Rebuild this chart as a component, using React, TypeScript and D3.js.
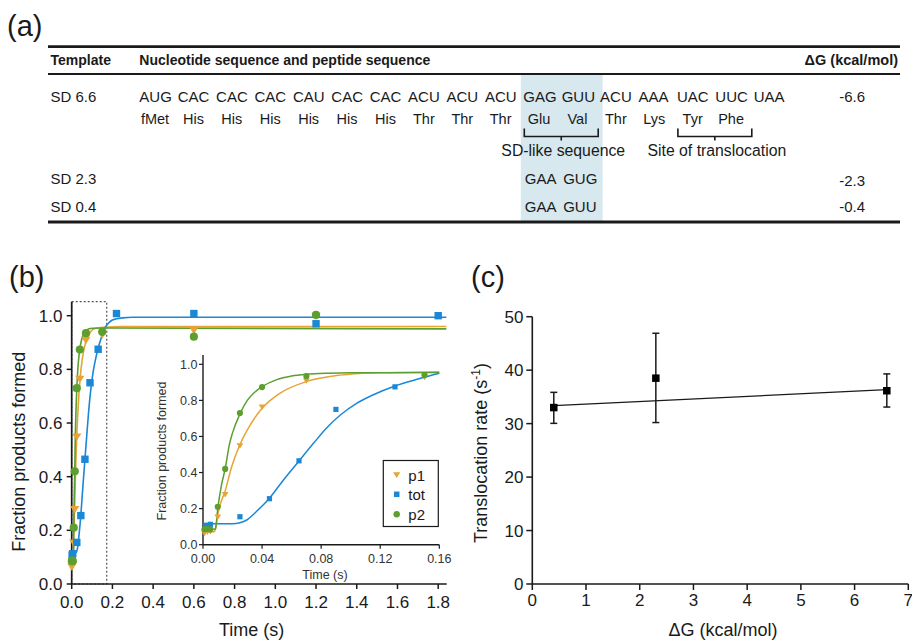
import React from "react";
import * as d3 from "d3";

// ---------- Panel (a) data ----------
const tableHeaders = ["Template", "Nucleotide sequence and peptide sequence", "ΔG (kcal/mol)"];
const codons = ["AUG", "CAC", "CAC", "CAC", "CAU", "CAC", "CAC", "ACU", "ACU", "ACU", "GAG", "GUU", "ACU", "AAA", "UAC", "UUC", "UAA"];
const aminoAcids = ["fMet", "His", "His", "His", "His", "His", "His", "Thr", "Thr", "Thr", "Glu", "Val", "Thr", "Lys", "Tyr", "Phe", ""];
const templates = ["SD 6.6", "SD 2.3", "SD 0.4"];
const deltaGValues = ["-6.6", "-2.3", "-0.4"];
const sdVariants: (string[] | null)[] = [null, ["GAA", "GUG"], ["GAA", "GUU"]];
const bracketLabels = ["SD-like sequence", "Site of translocation"];
const bracketCodons = [[10, 11], [14, 15]];
const sdCodonIdx = [10, 11];

// ---------- Panel (b) data ----------
const p1Time = [0.001, 0.003, 0.005, 0.01, 0.015, 0.025, 0.04, 0.07, 0.15, 0.6, 1.2];
const p1Val = [0.065, 0.072, 0.075, 0.155, 0.28, 0.55, 0.765, 0.91, 0.93, 0.947, 1.0];
const totTime = [0.002, 0.005, 0.025, 0.045, 0.065, 0.09, 0.13, 0.22, 0.6, 1.2, 1.8];
const totVal = [0.108, 0.113, 0.155, 0.255, 0.465, 0.75, 0.875, 1.008, 1.008, 0.97, 1.0];
const p2Time = [0.001, 0.003, 0.005, 0.01, 0.015, 0.025, 0.04, 0.07, 0.15, 0.6, 1.2];
const p2Val = [0.085, 0.088, 0.085, 0.21, 0.42, 0.73, 0.874, 0.935, 0.94, 0.922, 1.003];

// fitted curves
const fitP1Time = [0, 0.0075, 0.0085, 0.0097, 0.0127, 0.0147, 0.0194, 0.0246, 0.032, 0.04, 0.052, 0.07, 0.093, 0.115, 0.16, 0.25, 1.84];
const fitP1Val = [0.072, 0.072, 0.09, 0.155, 0.248, 0.29, 0.432, 0.547, 0.664, 0.756, 0.839, 0.904, 0.94, 0.952, 0.957, 0.96, 0.96];
const fitTotTime = [0, 0.02, 0.025, 0.0296, 0.036, 0.0447, 0.0545, 0.0646, 0.0748, 0.084, 0.093, 0.104, 0.115, 0.13, 0.145, 0.16, 0.18, 0.2, 0.25, 0.3, 1.84];
const fitTotVal = [0.116, 0.116, 0.122, 0.137, 0.183, 0.255, 0.359, 0.46, 0.562, 0.65, 0.719, 0.784, 0.83, 0.88, 0.917, 0.95, 0.972, 0.984, 0.992, 0.994, 0.994];
const fitP2Time = [0, 0.0075, 0.0085, 0.01, 0.0125, 0.015, 0.018, 0.02, 0.025, 0.03, 0.035, 0.04, 0.05, 0.06, 0.07, 0.085, 0.1, 0.16, 1.84];
const fitP2Val = [0.085, 0.085, 0.09, 0.2, 0.33, 0.42, 0.56, 0.62, 0.725, 0.8, 0.845, 0.876, 0.915, 0.935, 0.945, 0.951, 0.953, 0.954, 0.951];

const mainXTicks = [0, 0.2, 0.4, 0.6, 0.8, 1.0, 1.2, 1.4, 1.6, 1.8];
const mainYTicks = [0, 0.2, 0.4, 0.6, 0.8, 1.0];
const insetXTicks = [0, 0.04, 0.08, 0.12, 0.16];
const insetYTicks = [0, 0.2, 0.4, 0.6, 0.8, 1.0];
const seriesNames = ["p1", "tot", "p2"];
const zoomWindow = 0.172;

// ---------- Panel (c) data ----------
const dGx = [0.4, 2.3, 6.6];
const rate = [33.0, 38.5, 36.15];
const rateLow = [30.05, 30.2, 33.1];
const rateHigh = [35.85, 46.9, 39.3];
const fitLineX = [0.4, 6.6];
const fitLineY = [33.35, 36.35];
const cXTicks = [0, 1, 2, 3, 4, 5, 6, 7];
const cYTicks = [0, 10, 20, 30, 40, 50];

const FONT = "'Liberation Sans', Arial, Helvetica, sans-serif";
const ORANGE = "#e6a437";
const BLUE = "#1b87d7";
const GREEN = "#5c9f2e";
const INK = "#1a1a1a";

const zipPts = (xs: number[], ys: number[]) => xs.map((x, i) => [x, ys[i]] as [number, number]);

function Tri({ x, y, s, fill }: { x: number; y: number; s: number; fill: string }) {
  return <path d={`M${x - s},${y - s * 0.65}L${x + s},${y - s * 0.65}L${x},${y + s * 0.95}Z`} fill={fill} />;
}
function Sq({ x, y, s, fill }: { x: number; y: number; s: number; fill: string }) {
  return <rect x={x - s / 2} y={y - s / 2} width={s} height={s} fill={fill} />;
}
function Circ({ x, y, r, fill }: { x: number; y: number; r: number; fill: string }) {
  return <circle cx={x} cy={y} r={r} fill={fill} />;
}

export default function App() {
  // ----- Panel (a) layout -----
  const codonX = d3.scaleLinear().domain([0, 16]).range([139.3, 139.3 + 16 * 38.4]);
  const codonW = 31.5;
  const rowBase = [101.5, 183.5, 211.7];
  const hlX0 = codonX(sdCodonIdx[0]) - 2.5;
  const hlX1 = codonX(sdCodonIdx[1]) + 38.4 + 2.5;

  // ----- Panel (b) scales -----
  const bx = d3.scaleLinear().domain([0, 1.8]).range([71.7, 438.2]);
  const by = d3.scaleLinear().domain([0, 1]).range([584, 315.7]);
  const bLine = d3.line<[number, number]>().x(d => bx(d[0])).y(d => by(d[1])).curve(d3.curveMonotoneX);

  const ix = d3.scaleLinear().domain([0, 0.16]).range([203, 439.3]);
  const iy = d3.scaleLinear().domain([0, 1]).range([544.7, 364.3]);
  const iLine = d3.line<[number, number]>().x(d => ix(d[0])).y(d => iy(d[1])).curve(d3.curveMonotoneX);
  const clip = (pts: [number, number][]) => pts.filter(p => p[0] <= 0.16);

  const fitP1 = zipPts(fitP1Time, fitP1Val);
  const fitTot = zipPts(fitTotTime, fitTotVal);
  const fitP2 = zipPts(fitP2Time, fitP2Val);
  const p1 = zipPts(p1Time, p1Val);
  const tot = zipPts(totTime, totVal);
  const p2 = zipPts(p2Time, p2Val);
  const f1 = d3.format(".1f");
  const f2 = d3.format(".2f");

  // ----- Panel (c) scales -----
  const cx = d3.scaleLinear().domain([0, 7]).range([532.3, 908.3]);
  const cy = d3.scaleLinear().domain([0, 50]).range([584, 316.7]);
  const cLine = d3.line<number>().x(d => cx(fitLineX[d])).y(d => cy(fitLineY[d]));

  return (
    <svg width={912} height={640} style={{ position: "absolute", left: 0, top: 0, background: "#fff" }} fontFamily={FONT}>
      <rect x={0} y={0} width={912} height={640} fill="#fff" />
      {/* ================= Panel (a) ================= */}
      <text x={7} y={36} fontSize={29} fill={INK}>(a)</text>
      <rect x={hlX0} y={75} width={hlX1 - hlX0} height={146} fill="#d7e8ef" />
      <line x1={48} x2={900} y1={46.6} y2={46.6} stroke={INK} strokeWidth={2.6} />
      <line x1={48} x2={900} y1={74} y2={74} stroke={INK} strokeWidth={1.8} />
      <line x1={48} x2={900} y1={222} y2={222} stroke={INK} strokeWidth={2.8} />
      <text x={50.5} y={64.5} fontSize={14} fontWeight="bold" fill={INK}>{tableHeaders[0]}</text>
      <text x={139.3} y={64.5} fontSize={14} fontWeight="bold" fill={INK}>{tableHeaders[1]}</text>
      <text x={898} y={64.5} fontSize={14.5} fontWeight="bold" fill={INK} textAnchor="end">{tableHeaders[2]}</text>
      {templates.map((t, i) => (
        <text key={t} x={50.5} y={rowBase[i]} fontSize={15} fill={INK}>{t}</text>
      ))}
      {deltaGValues.map((v, i) => (
        <text key={v} x={865} y={[101.7, 186, 211.7][i]} fontSize={15} fill={INK} textAnchor="end">{v}</text>
      ))}
      {codons.map((c, i) => (
        <text key={"c" + i} x={codonX(i)} y={rowBase[0]} fontSize={15} fill={INK}>{c}</text>
      ))}
      {aminoAcids.map((a, i) => (
        <text key={"a" + i} x={codonX(i) + codonW / 2} y={124} fontSize={14.5} fill={INK} textAnchor="middle">{a}</text>
      ))}
      {bracketCodons.map(([s, e], i) => {
        const x0 = codonX(s) + 1;
        const x1 = codonX(e) + codonW + 5;
        const mid = (x0 + x1) / 2;
        return (
          <g key={"b" + i}>
            <path d={`M${x0},128.5V136.5H${x1}V128.5M${mid},136.5V140.5`} fill="none" stroke={INK} strokeWidth={1.6} />
            <text x={mid + 2} y={156} fontSize={15.8} fill={INK} textAnchor="middle">{bracketLabels[i]}</text>
          </g>
        );
      })}
      {sdVariants.map((v, i) =>
        v ? v.map((c, j) => (
          <text key={"v" + i + j} x={codonX(sdCodonIdx[j]) + 1.5} y={rowBase[i]} fontSize={15} fill={INK}>{c}</text>
        )) : null
      )}

      {/* ================= Panel (b) ================= */}
      <text x={9} y={287} fontSize={29} fill={INK}>(b)</text>
      {/* dotted zoom window */}
      <rect x={bx(0)} y={301.7} width={bx(zoomWindow) - bx(0)} height={584 - 301.7} fill="none" stroke="#555" strokeWidth={1.2} strokeDasharray="2,2" />
      {/* axes */}
      <line x1={bx(0)} x2={bx(0)} y1={301.7} y2={584} stroke={INK} strokeWidth={1.7} />
      <line x1={bx(0)} x2={446.7} y1={584} y2={584} stroke={INK} strokeWidth={1.7} />
      {mainYTicks.map(t => (
        <g key={"my" + t}>
          <line x1={bx(0) - 5} x2={bx(0)} y1={by(t)} y2={by(t)} stroke={INK} strokeWidth={1.5} />
          <text x={62.5} y={by(t) + 6} fontSize={17} fill={INK} textAnchor="end">{f1(t)}</text>
        </g>
      ))}
      {mainXTicks.map(t => (
        <g key={"mx" + t}>
          <line x1={bx(t)} x2={bx(t)} y1={584} y2={589} stroke={INK} strokeWidth={1.5} />
          <text x={bx(t)} y={607.5} fontSize={17} fill={INK} textAnchor="middle">{f1(t)}</text>
        </g>
      ))}
      <text x={251.7} y={636} fontSize={18} fill={INK} textAnchor="middle">Time (s)</text>
      <text transform="translate(25,451.7) rotate(-90)" fontSize={18} fill={INK} textAnchor="middle">Fraction products formed</text>
      {/* fits */}
      <path d={bLine(fitP1) || ""} fill="none" stroke={ORANGE} strokeWidth={1.6} />
      <path d={bLine(fitTot) || ""} fill="none" stroke={BLUE} strokeWidth={1.6} />
      <path d={bLine(fitP2) || ""} fill="none" stroke={GREEN} strokeWidth={1.6} />
      {/* points */}
      {p1.map((d, i) => <Tri key={"p1" + i} x={bx(d[0])} y={by(d[1])} s={4.6} fill={ORANGE} />)}
      {tot.map((d, i) => <Sq key={"t" + i} x={bx(d[0])} y={by(d[1])} s={7.4} fill={BLUE} />)}
      {p2.map((d, i) => <Circ key={"p2" + i} x={bx(d[0])} y={by(d[1])} r={4.1} fill={GREEN} />)}

      {/* inset */}
      <line x1={ix(0)} x2={ix(0)} y1={355} y2={iy(0)} stroke={INK} strokeWidth={1.4} />
      <line x1={ix(0)} x2={ix(0.16)} y1={iy(0)} y2={iy(0)} stroke={INK} strokeWidth={1.4} />
      {insetYTicks.map(t => (
        <g key={"iy" + t}>
          <line x1={ix(0) - 4} x2={ix(0)} y1={iy(t)} y2={iy(t)} stroke={INK} strokeWidth={1.2} />
          <text x={197.5} y={iy(t) + 4.4} fontSize={12.5} fill="#333" textAnchor="end">{f1(t)}</text>
        </g>
      ))}
      {insetXTicks.map(t => (
        <g key={"ix" + t}>
          <line x1={ix(t)} x2={ix(t)} y1={iy(0)} y2={iy(0) + 4} stroke={INK} strokeWidth={1.2} />
          <text x={ix(t)} y={563} fontSize={12.5} fill="#333" textAnchor="middle">{f2(t)}</text>
        </g>
      ))}
      <text x={325} y={579} fontSize={12.5} fill="#333" textAnchor="middle">Time (s)</text>
      <text transform="translate(166,451) rotate(-90)" fontSize={12.5} fill="#333" textAnchor="middle">Fraction products formed</text>
      <path d={iLine(clip(fitP1)) || ""} fill="none" stroke={ORANGE} strokeWidth={1.5} />
      <path d={iLine(clip(fitTot)) || ""} fill="none" stroke={BLUE} strokeWidth={1.5} />
      <path d={iLine(clip(fitP2)) || ""} fill="none" stroke={GREEN} strokeWidth={1.5} />
      {clip(p1).map((d, i) => <Tri key={"ip1" + i} x={ix(d[0])} y={iy(d[1])} s={3.4} fill={ORANGE} />)}
      {clip(tot).map((d, i) => <Sq key={"it" + i} x={ix(d[0])} y={iy(d[1])} s={5.2} fill={BLUE} />)}
      {clip(p2).map((d, i) => <Circ key={"ip2" + i} x={ix(d[0])} y={iy(d[1])} r={3.1} fill={GREEN} />)}
      {/* legend */}
      <rect x={383.3} y={460.5} width={55} height={66} fill="#fff" stroke={INK} strokeWidth={1.2} />
      <Tri x={396.7} y={474.5} s={3.6} fill={ORANGE} />
      <Sq x={396.7} y={494.3} s={5.5} fill={BLUE} />
      <Circ x={396.7} y={514.3} r={3.2} fill={GREEN} />
      {seriesNames.map((n, i) => (
        <text key={n} x={408.3} y={[480.5, 500, 519.5][i]} fontSize={15} fill={INK}>{n}</text>
      ))}

      {/* ================= Panel (c) ================= */}
      <text x={471} y={287} fontSize={29} fill={INK}>(c)</text>
      <line x1={cx(0)} x2={cx(0)} y1={cy(50)} y2={cy(0)} stroke={INK} strokeWidth={1.6} />
      <line x1={cx(0)} x2={cx(7)} y1={cy(0)} y2={cy(0)} stroke={INK} strokeWidth={1.6} />
      {cYTicks.map(t => (
        <g key={"cy" + t}>
          <line x1={cx(0) - 6} x2={cx(0)} y1={cy(t)} y2={cy(t)} stroke={INK} strokeWidth={1.5} />
          <text x={523.5} y={cy(t) + 6} fontSize={17} fill={INK} textAnchor="end">{t}</text>
        </g>
      ))}
      {cXTicks.map(t => (
        <g key={"cx" + t}>
          <line x1={cx(t)} x2={cx(t)} y1={cy(0)} y2={cy(0) + 6} stroke={INK} strokeWidth={1.5} />
          <text x={cx(t)} y={606} fontSize={17} fill={INK} textAnchor="middle">{t}</text>
        </g>
      ))}
      <text x={723} y={636} fontSize={18} fill={INK} textAnchor="middle">ΔG (kcal/mol)</text>
      <text transform="translate(487,453) rotate(-90)" fontSize={18} fill={INK} textAnchor="middle">
        Translocation rate (s<tspan dy={-7} fontSize={12}>-1</tspan><tspan dy={7}>)</tspan>
      </text>
      <path d={cLine([0, 1]) || ""} fill="none" stroke={INK} strokeWidth={1.2} />
      {dGx.map((g, i) => (
        <g key={"e" + i}>
          <line x1={cx(g)} x2={cx(g)} y1={cy(rateLow[i])} y2={cy(rateHigh[i])} stroke={INK} strokeWidth={1.5} />
          <line x1={cx(g) - 3.5} x2={cx(g) + 3.5} y1={cy(rateLow[i])} y2={cy(rateLow[i])} stroke={INK} strokeWidth={1.5} />
          <line x1={cx(g) - 3.5} x2={cx(g) + 3.5} y1={cy(rateHigh[i])} y2={cy(rateHigh[i])} stroke={INK} strokeWidth={1.5} />
          <Sq x={cx(g)} y={cy(rate[i])} s={7.5} fill="#000" />
        </g>
      ))}
    </svg>
  );
}
